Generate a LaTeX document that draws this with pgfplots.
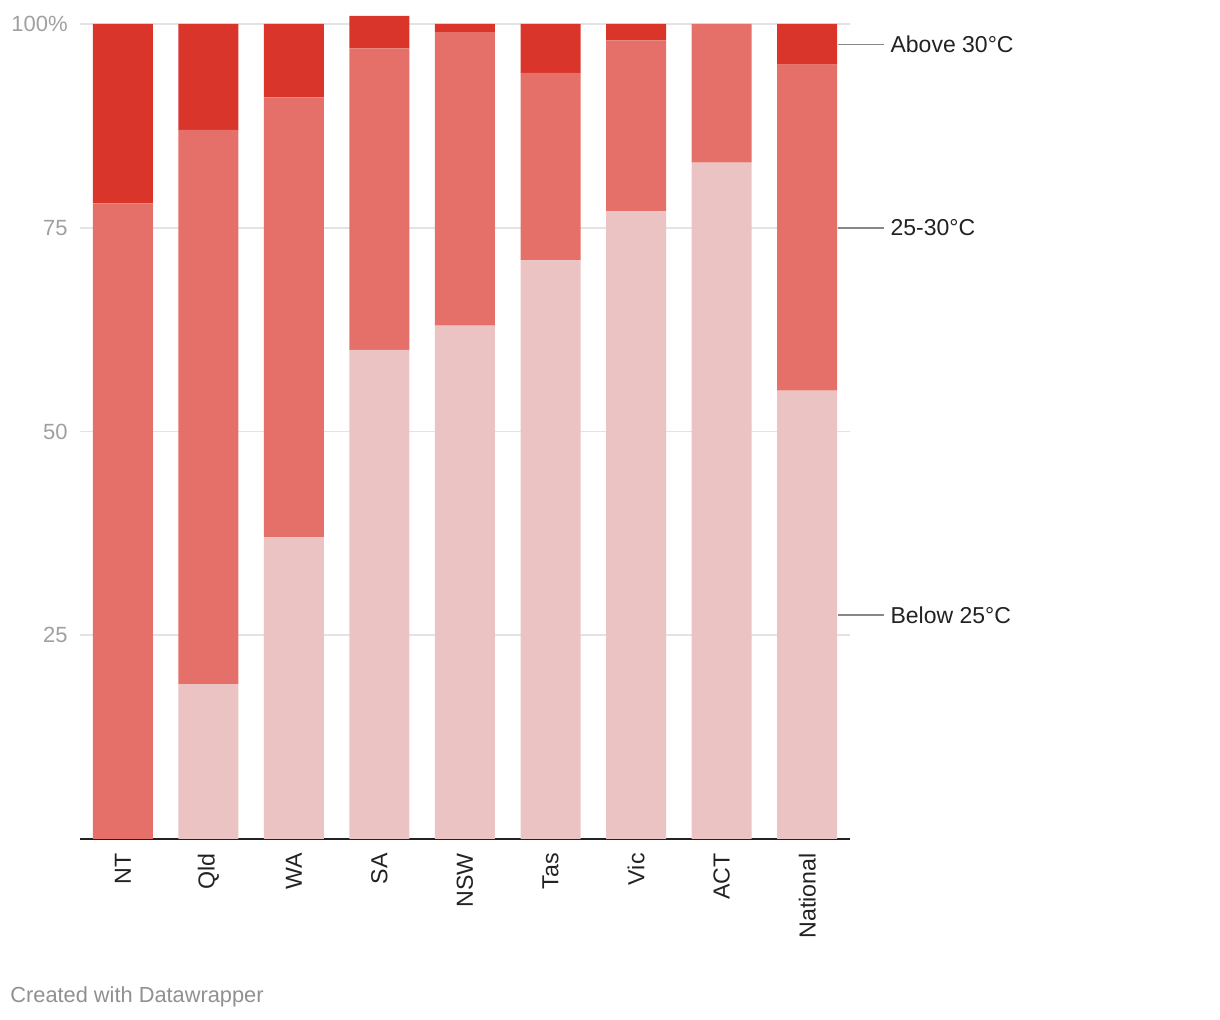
\documentclass[border=0pt]{standalone}
\usepackage{pgfplots}
\pgfplotsset{compat=1.18}
\usepackage{fontspec}
\setmainfont{Liberation Sans}
\definecolor{cAbove}{HTML}{D9352B}
\definecolor{cMid}{HTML}{E5706A}
\definecolor{cBelow}{HTML}{EBC3C2}
\definecolor{cGrid}{HTML}{E3E3E3}
\definecolor{cTick}{HTML}{A0A0A0}
\definecolor{cText}{HTML}{222222}
\definecolor{cLine}{HTML}{888888}
\begin{document}
\begin{tikzpicture}
\path[use as bounding box] (0,0) rectangle (610pt,510pt);
\begin{axis}[
  at={(40pt,90.5pt)}, anchor=south west,
  width=385pt, height=407.5pt, scale only axis,
  xmin=-0.5, xmax=8.5, ymin=0, ymax=100,
  clip=false,
  ybar stacked, bar width=30pt,
  axis x line*=bottom, axis y line*=left,
  x axis line style={color=cText, line width=1.1pt},
  y axis line style={draw=none},
  major tick length=0pt,
  xtick={0,...,8},
  xticklabels={NT,Qld,WA,SA,NSW,Tas,Vic,ACT,National},
  xticklabel style={rotate=90, anchor=east, inner sep=0pt, font=\fontsize{11.6pt}{13pt}\selectfont, text=cText},
  xticklabel shift=7pt,
  ytick={25,50,75,100},
  yticklabels={25,50,75,100\%},
  yticklabel style={anchor=east, inner sep=0pt, font=\fontsize{11pt}{13pt}\selectfont, text=cTick},
  yticklabel shift=6pt,
  /pgf/number format/assume math mode=true,
  ymajorgrids, grid style={color=cGrid, line width=0.8pt},
]
\addplot[fill=cBelow, draw=none] coordinates {(0,0) (1,19) (2,37) (3,60) (4,63) (5,71) (6,77) (7,83) (8,55)};
\addplot[fill=cMid, draw=none] coordinates {(0,78) (1,68) (2,54) (3,37) (4,36) (5,23) (6,21) (7,17) (8,40)};
\addplot[fill=cAbove, draw=none] coordinates {(0,22) (1,13) (2,9) (3,4) (4,1) (5,6) (6,2) (7,0) (8,5)};
\draw[cLine, line width=0.8pt] (axis cs:8.36,97.5) -- (axis cs:8.9,97.5);
\draw[cLine, line width=0.8pt] (axis cs:8.36,75) -- (axis cs:8.9,75);
\draw[cLine, line width=0.8pt] (axis cs:8.36,27.5) -- (axis cs:8.9,27.5);
\node[anchor=west, inner sep=0pt, text=cText, font=\fontsize{11.5pt}{13pt}\selectfont] at (axis cs:8.97,97.5) {Above 30°C};
\node[anchor=west, inner sep=0pt, text=cText, font=\fontsize{11.5pt}{13pt}\selectfont] at (axis cs:8.97,75) {25-30°C};
\node[anchor=west, inner sep=0pt, text=cText, font=\fontsize{11.5pt}{13pt}\selectfont] at (axis cs:8.97,27.5) {Below 25°C};
\end{axis}
\node[anchor=west, inner sep=0pt, text=cTick!90!black, font=\fontsize{10.9pt}{12pt}\selectfont] at (5pt,11.5pt) {Created with Datawrapper};
\end{tikzpicture}
\end{document}
